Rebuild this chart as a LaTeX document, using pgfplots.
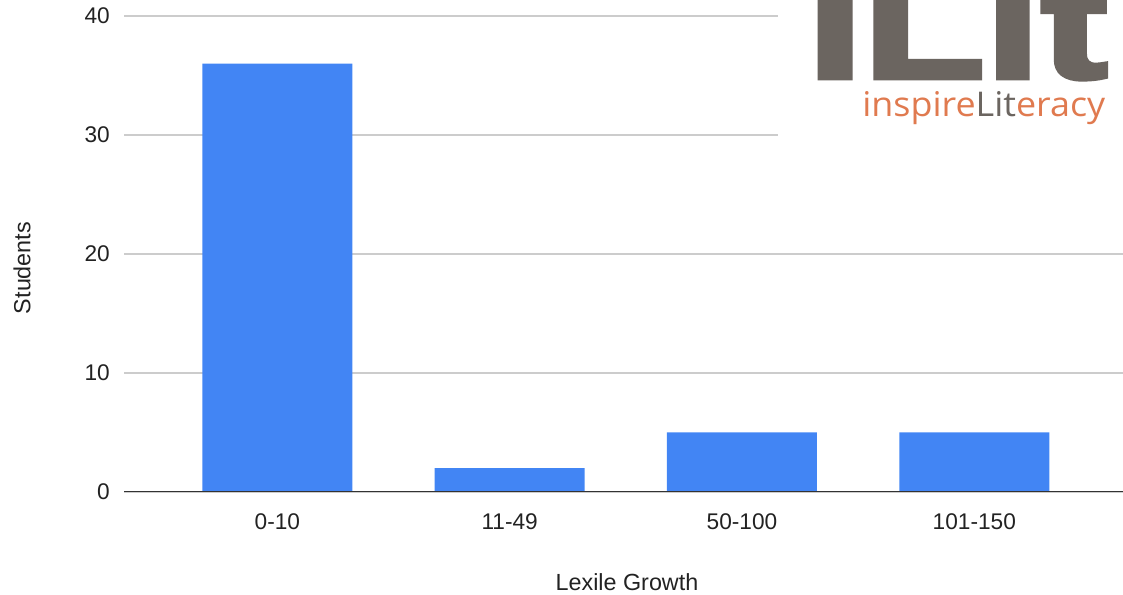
\documentclass[border=0pt]{standalone}
\usepackage{pgfplots}
\pgfplotsset{compat=1.18}
\usepackage{fontspec}
\setmainfont{Liberation Sans}
\newfontfamily\logofont{Liberation Sans Bold}[FakeBold=3]
\newfontfamily\logosub{Open Sans}
\definecolor{barblue}{HTML}{4285F4}
\definecolor{gridgrey}{HTML}{CCCCCC}
\definecolor{txt}{HTML}{222222}
\definecolor{logogrey}{HTML}{6B6560}
\definecolor{logoorange}{HTML}{E07A4F}
\begin{document}
\begin{tikzpicture}
\useasboundingbox (0,0) rectangle (842.25pt,446.25pt);
\begin{axis}[
  at={(93pt,77.25pt)}, anchor=south west,
  scale only axis, width=749.25pt, height=357pt,
  xmin=-0.66, xmax=3.64, ymin=0, ymax=40,
  ybar, bar width=112.5pt,
  ytick={0,10,20,30,40},
  xtick={0,1,2,3},
  xticklabels={0-10,11-49,50-100,101-150},
  ymajorgrids, grid style={draw=gridgrey, line width=0.9pt},
  major tick length=0pt,
  axis line style={draw=none},
  tick label style={font=\fontsize{17}{20}\selectfont, text=txt},
  /pgf/number format/assume math mode=true,
  yticklabel style={anchor=east, inner sep=0pt, xshift=-10.5pt},
  xticklabel style={anchor=north, inner sep=0pt, yshift=-15.75pt},
  xlabel={Lexile Growth},
  ylabel={Students},
  label style={font=\fontsize{17.5}{20}\selectfont, text=txt},
  xlabel style={at={(axis description cs:0.5035,-0.189)}, anchor=center},
  ylabel style={at={(axis description cs:-0.1021,0.4706)}, anchor=center},
]
\addplot[fill=barblue, draw=none] coordinates {(0,36) (1,2) (2,5) (3,5)};
\draw[color=black!80, line width=1.1pt] (rel axis cs:0,0) -- (rel axis cs:1,0);
\end{axis}
% logo
\fill[white] (583.5pt,337.5pt) rectangle (842.25pt,446.25pt);
\begin{scope}
\clip (583.5pt,337.5pt) rectangle (842.25pt,446.25pt);
\node[anchor=base west, inner sep=0pt, text=logogrey] at (605.25pt,387.75pt) {\resizebox{225pt}{82.5pt}{\logofont ILit}};
\end{scope}
\node[anchor=base west, inner sep=0pt] at (646.5pt,358.5pt) {\resizebox{182.25pt}{18.75pt}{\logosub\textcolor{logoorange}{inspire}\textcolor{logogrey}{Lit}\textcolor{logoorange}{eracy}}};
\end{tikzpicture}
\end{document}
